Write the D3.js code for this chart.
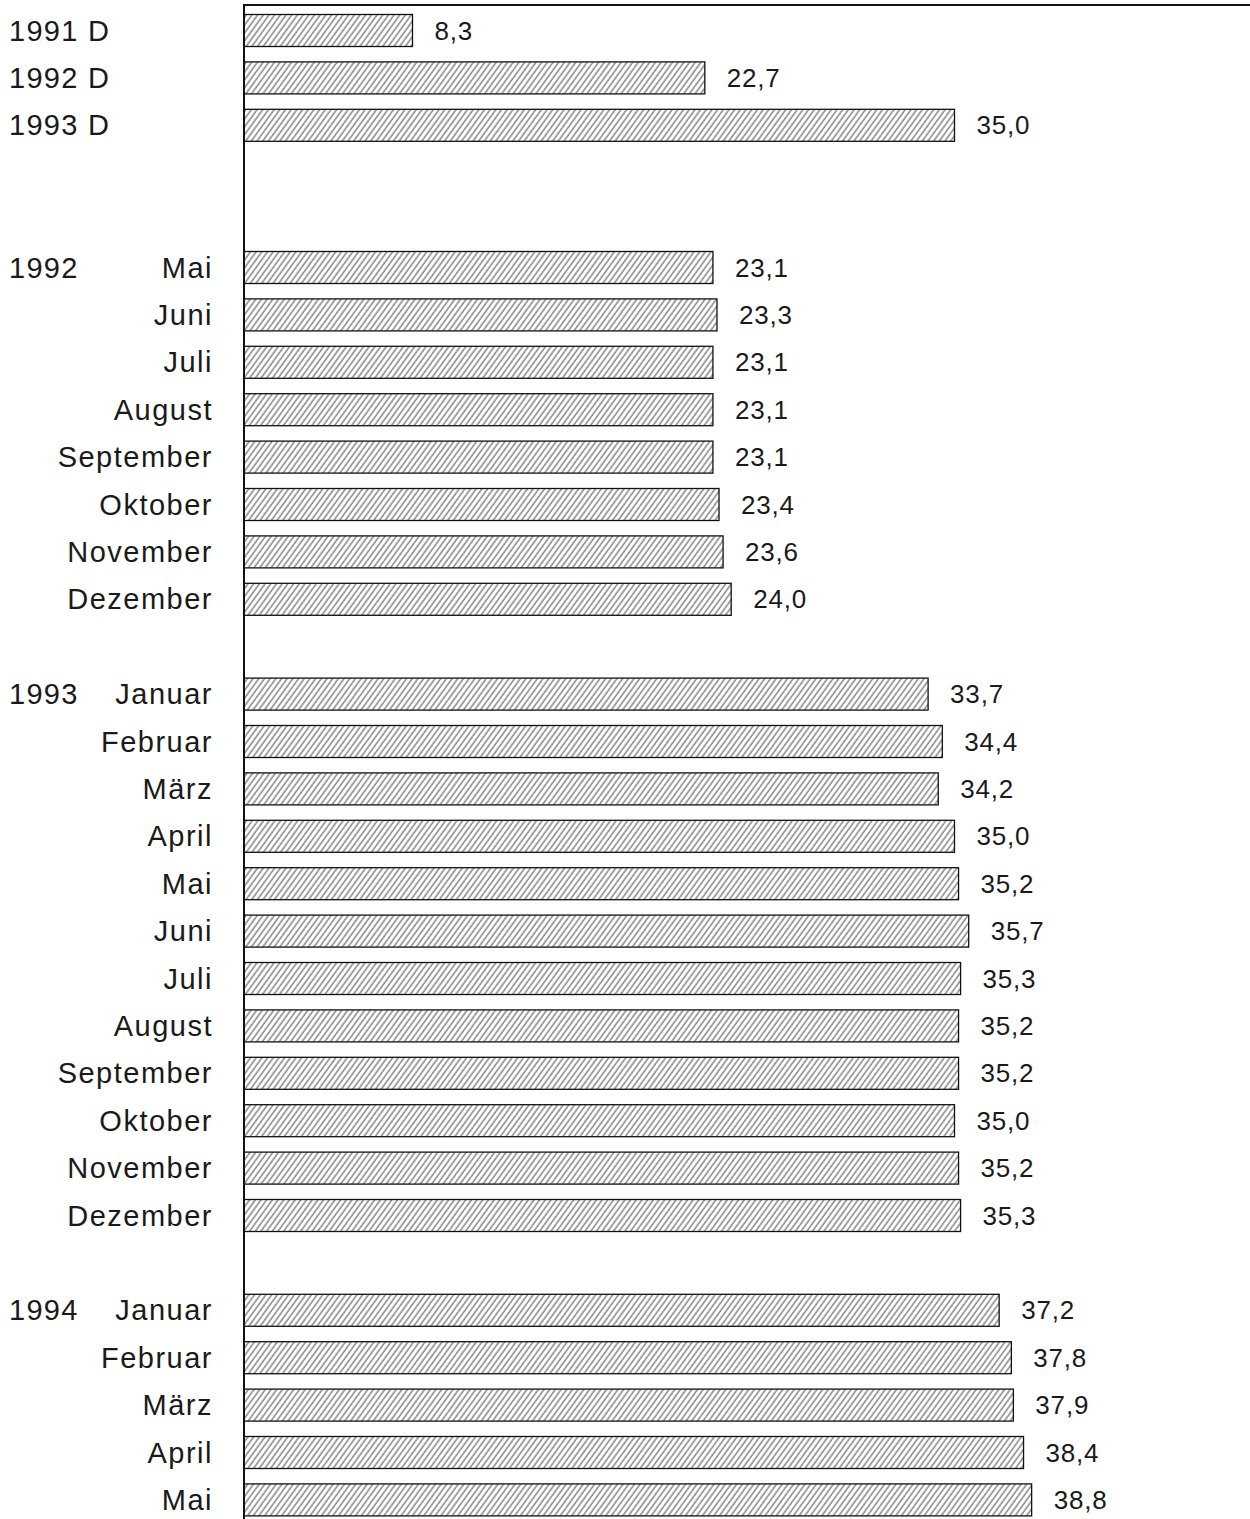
<!DOCTYPE html>
<html>
<head>
<meta charset="utf-8">
<script src="https://cdn.jsdelivr.net/npm/d3@7"></script>
<style>
  body { margin: 0; background: #fff; }
  text { font-family: "Liberation Sans", Arial, Helvetica, sans-serif; fill: #1a1a1a; }
</style>
</head>
<body>
<div id="chart"></div>
<script>
// DATA (one entry per row, "" / null = empty spacer row)
const yearLabels = ["1991 D", "1992 D", "1993 D", "", "",
  "1992", "", "", "", "", "", "", "", "",
  "1993", "", "", "", "", "", "", "", "", "", "", "", "",
  "1994", "", "", "", ""];
const monthLabels = ["", "", "", "", "",
  "Mai", "Juni", "Juli", "August", "September", "Oktober", "November", "Dezember", "",
  "Januar", "Februar", "März", "April", "Mai", "Juni", "Juli", "August", "September", "Oktober", "November", "Dezember", "",
  "Januar", "Februar", "März", "April", "Mai"];
const values = [8.3, 22.7, 35.0, null, null,
  23.1, 23.3, 23.1, 23.1, 23.1, 23.4, 23.6, 24.0, null,
  33.7, 34.4, 34.2, 35.0, 35.2, 35.7, 35.3, 35.2, 35.2, 35.0, 35.2, 35.3, null,
  37.2, 37.8, 37.9, 38.4, 38.8];

function draw() {
  const W = 1250, H = 1519;
  const axisX = 244;
  const step = 47.4, barH = 32, firstCenter = 30.5;

  const svg = d3.select("#chart")
    .append("svg")
      .attr("width", W)
      .attr("height", H);

  // hatch pattern
  const defs = svg.append("defs");
  const pat = defs.append("pattern")
    .attr("id", "hatch")
    .attr("patternUnits", "userSpaceOnUse")
    .attr("width", 4.6)
    .attr("height", 4.6)
    .attr("patternTransform", "rotate(36)");
  pat.append("rect").attr("width", 4.6).attr("height", 4.6).attr("fill", "#fff");
  pat.append("line")
    .attr("x1", 1).attr("y1", 0).attr("x2", 1).attr("y2", 4.6)
    .attr("stroke", "#2a2a2a")
    .attr("stroke-width", 0.85);

  // SCALES
  const n = values.length;
  const ys = d3.scaleBand()
    .domain(d3.range(n))
    .range([firstCenter - step / 2, firstCenter - step / 2 + n * step])
    .paddingInner(1 - barH / step)
    .paddingOuter((1 - barH / step) / 2);

  const xs = d3.scaleLinear()
    .domain([0, 40])
    .range([axisX, axisX + 40 * 20.3]);

  const fmt = d3.formatLocale({decimal: ",", thousands: ".", grouping: [3], currency: ["", " €"]}).format(".1f");

  const rows = values.map((v, i) => ({i, v, year: yearLabels[i], month: monthLabels[i]}));
  const barRows = rows.filter(d => d.v != null);

  // BARS
  svg.selectAll("rect.bar")
    .data(barRows)
    .enter()
    .append("rect")
      .attr("class", "bar")
      .attr("x", xs(0))
      .attr("y", d => ys(d.i))
      .attr("width", d => xs(d.v) - xs(0))
      .attr("height", ys.bandwidth())
      .attr("fill", "url(#hatch)")
      .attr("stroke", "#111")
      .attr("stroke-width", 1.3);

  // value labels
  svg.selectAll("text.val")
    .data(barRows)
    .enter()
    .append("text")
      .attr("class", "val")
      .attr("x", d => xs(d.v) + 22)
      .attr("y", d => ys(d.i) + ys.bandwidth() / 2 + 9)
      .style("font-size", "26px")
      .style("letter-spacing", "0.8px")
      .text(d => fmt(d.v));

  // category labels
  svg.selectAll("text.year")
    .data(rows.filter(d => d.year))
    .enter()
    .append("text")
      .attr("class", "year")
      .attr("x", 9)
      .attr("y", d => ys(d.i) + ys.bandwidth() / 2 + 10)
      .style("font-size", "29px")
      .style("letter-spacing", "1.3px")
      .text(d => d.year);

  svg.selectAll("text.month")
    .data(rows.filter(d => d.month))
    .enter()
    .append("text")
      .attr("class", "month")
      .attr("x", 213)
      .attr("y", d => ys(d.i) + ys.bandwidth() / 2 + 10)
      .attr("text-anchor", "end")
      .style("font-size", "29px")
      .style("letter-spacing", "1.5px")
      .text(d => d.month);

  // frame: top line + vertical axis
  svg.append("line")
    .attr("x1", axisX - 1).attr("x2", W)
    .attr("y1", 5).attr("y2", 5)
    .attr("stroke", "#111")
    .attr("stroke-width", 2);

  svg.append("line")
    .attr("x1", axisX).attr("x2", axisX)
    .attr("y1", 4).attr("y2", H)
    .attr("stroke", "#111")
    .attr("stroke-width", 2);
}

draw();
</script>
</body>
</html>
